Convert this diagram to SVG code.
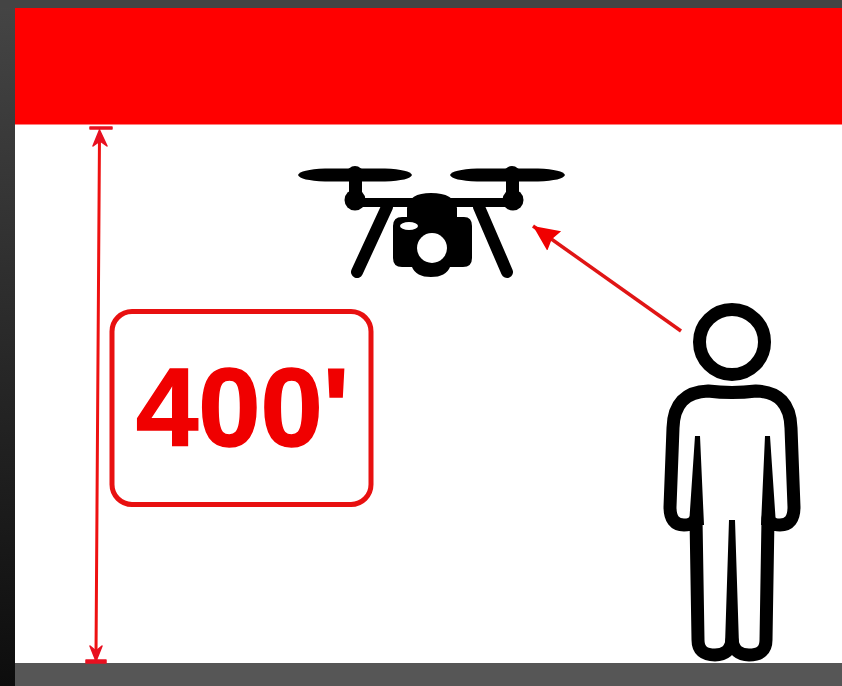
<svg xmlns="http://www.w3.org/2000/svg" width="842" height="686" viewBox="0 0 842 686">
<defs>
<linearGradient id="bg" x1="0" y1="0" x2="0" y2="1"><stop offset="0" stop-color="#454545"/><stop offset="1" stop-color="#0d0d0d"/></linearGradient>
<marker id="solid" markerUnits="userSpaceOnUse" markerWidth="28" markerHeight="26" refX="26" refY="13" orient="auto"><path d="M0 1 L26 13 L0 25 L3 13 Z" fill="#f00000"/></marker>
</defs>
<style>
.k{fill:none;stroke:#000;stroke-linecap:round;stroke-linejoin:round}
.f{fill:#000}
.r{fill:none;stroke:#ee1111;stroke-linecap:round;stroke-linejoin:round}
.h{fill:#e81020;stroke:#e81020;stroke-width:1.500;stroke-linejoin:round}
</style>
<rect width="842" height="686" fill="url(#bg)"/>
<rect x="0" y="0" width="842" height="8" fill="#444"/>
<rect x="15" y="8" width="827" height="656" fill="#fff"/>
<rect id="ceiling" x="15" y="8" width="827" height="116.500" fill="#ff0000"/>
<rect id="ground" x="15" y="663" width="827" height="23" fill="#565656"/>
<g id="connectors">
<path class="r" stroke-width="3" d="M99.500 135 L96 655"/>
<path class="h" d="M90 127 H112 V129 H90 Z M99.500 130 L107 146 L100 141 L93 146 Z"/>
<path class="h" d="M86 660 H106 V663 H86 Z M96 661 L90 646 L96 651 L102 646 Z"/>
<path stroke="#e01515" stroke-width="3.500" fill="none" marker-end="url(#solid)" d="M681 331 L533 226"/>
</g>
<g id="label-400">
<rect x="112" y="311.500" width="259" height="193" rx="20" fill="#fff" stroke="#e81010" stroke-width="5"/>
<text x="136" y="446" font-family="'Liberation Sans',Arial,sans-serif" font-weight="700" font-size="112" fill="#f00000" stroke="#f00000" stroke-width="1.500">400'</text>
</g>
<g id="drone">
<path id="prop-left" class="f" d="M298 175 Q300 169.500 325 168.500 H385 Q410 169.500 412 175 Q410 180.500 385 181.500 H325 Q300 180.500 298 175 Z"/>
<path id="prop-right" class="f" d="M450 175 Q452 169.500 477 168.500 H538 Q563 169.500 565 175 Q563 180.500 538 181.500 H477 Q452 180.500 450 175 Z"/>
<circle class="f" cx="355" cy="174" r="8"/>
<circle class="f" cx="512" cy="174" r="8"/>
<rect class="f" x="349" y="174" width="13" height="20"/>
<rect class="f" x="506" y="174" width="13" height="20"/>
<circle class="f" cx="355" cy="200" r="10.500"/>
<circle class="f" cx="513" cy="200" r="10.500"/>
<rect class="f" x="355" y="198" width="158" height="9"/>
<path class="k" stroke-width="12" d="M387 207 L357 272 M479 207 L507 272"/>
<path class="f" d="M407 217 V208 Q409 193 431 193 Q454 193 457 208 V217 H464 Q472 217 472 226 V258 Q472 267 463 267 H450 Q446 277 431 277 Q416 277 412 267 H402 Q393 267 393 258 V226 Q393 217 402 217 Z"/>
<circle cx="432" cy="248" r="15" fill="#fff"/>
<ellipse cx="409" cy="226" rx="9" ry="4" fill="#fff"/>
</g>
<g id="person">
<circle class="k" cx="732" cy="342" r="32.500" stroke-width="13"/>
<path class="k" stroke-width="13" d="M708 391 Q732 394 756 391 Q790 392 791 428 L794 507 Q794 525 780 525 Q770 525 768 518 L766 640 Q766 655 749 655 Q734 655 732 640 Q730 655 715 655 Q698 655 698 640 L696 518 Q694 525 684 525 Q670 525 670 507 L673 428 Q674 392 708 391 Z"/>
<path class="f" d="M695 436 H700 L704 525 H689 Z M765 436 H770 L776 525 H761 Z M729 520 H735 L739 645 H725 Z"/>
</g>
</svg>
